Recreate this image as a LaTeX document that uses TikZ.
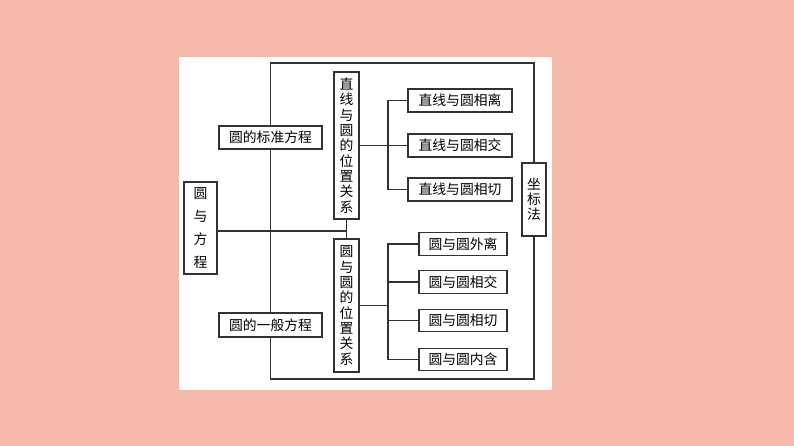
\documentclass[tikz,border=0pt]{standalone}
\usepackage{fontspec}
\newfontfamily\cjk{Noto Sans CJK SC}
\definecolor{bgsalmon}{RGB}{244,185,168}
\definecolor{ln}{RGB}{50,50,50}
\begin{document}
\begin{tikzpicture}[x=1pt,y=-1pt,
  box/.style={draw=ln,line width=1.2pt,fill=white,inner sep=0pt,font=\cjk\fontsize{13.8}{15.3}\selectfont,align=center},
  conn/.style={draw=ln,line width=1.1pt}]
\fill[bgsalmon] (0,0) rectangle (794,446);
\fill[white] (179,57) rectangle (552,390);
\useasboundingbox (0,0) rectangle (794,446);
% nodes
\node[box,minimum width=33pt,minimum height=92pt,font=\cjk\fontsize{13.8}{22.7}\selectfont] (fy) at (200.5,228) {圆\\与\\方\\程};
\node[box,minimum width=103pt,minimum height=23pt] (bz) at (270.5,137.5) {圆的标准方程};
\node[box,minimum width=103pt,minimum height=24pt] (yb) at (270.5,325) {圆的一般方程};
\node[box,minimum width=25pt,minimum height=147pt] (zx) at (346.5,145.5) {直\\线\\与\\圆\\的\\位\\置\\关\\系};
\node[box,minimum width=25pt,minimum height=133pt] (yy) at (346.5,305.5) {圆\\与\\圆\\的\\位\\置\\关\\系};
\node[box,minimum width=24pt,minimum height=73pt] (zb) at (534,199.5) {坐\\标\\法};
\node[box,minimum width=104pt,minimum height=23pt] (l1) at (460,100.5) {直线与圆相离};
\node[box,minimum width=104pt,minimum height=23pt] (l2) at (460,145.5) {直线与圆相交};
\node[box,minimum width=104pt,minimum height=23pt] (l3) at (460,189.5) {直线与圆相切};
\node[box,minimum width=88pt,minimum height=22.5pt] (c1) at (463,244) {圆与圆外离};
\node[box,minimum width=88pt,minimum height=22.5pt] (c2) at (463,282) {圆与圆相交};
\node[box,minimum width=88pt,minimum height=22.5pt] (c3) at (463,320.5) {圆与圆相切};
\node[box,minimum width=88pt,minimum height=22.5pt] (c4) at (463,359.5) {圆与圆内含};
% helper coordinates
\coordinate (tl) at (270.5,63);
\coordinate (bl) at (270.5,379);
\coordinate (jn) at (346.5,231);
\coordinate (jl) at (388,0);
\coordinate (jc) at (388,0);
% connectors
\draw[conn] (bz.north) -- (tl) -| (zb.north);
\draw[conn] (bz.south) -- (yb.north);
\draw[conn] (yb.south) -- (bl) -| (zb.south);
\draw[conn] (zx.south) -- (yy.north);
\draw[conn] (fy.east |- jn) -- (jn);
\draw[conn] (zx.east) -- (l2.west);
\draw[conn] (l1.west) -- (l1.west -| jl) -- (l3.west -| jl) -- (l3.west);
\draw[conn] (yy.east) -- (yy.east -| jc);
\draw[conn] (c1.west) -- (c1.west -| jc) -- (c4.west -| jc) -- (c4.west);
\draw[conn] (c2.west) -- (c2.west -| jc);
\draw[conn] (c3.west) -- (c3.west -| jc);
\end{tikzpicture}
\end{document}
